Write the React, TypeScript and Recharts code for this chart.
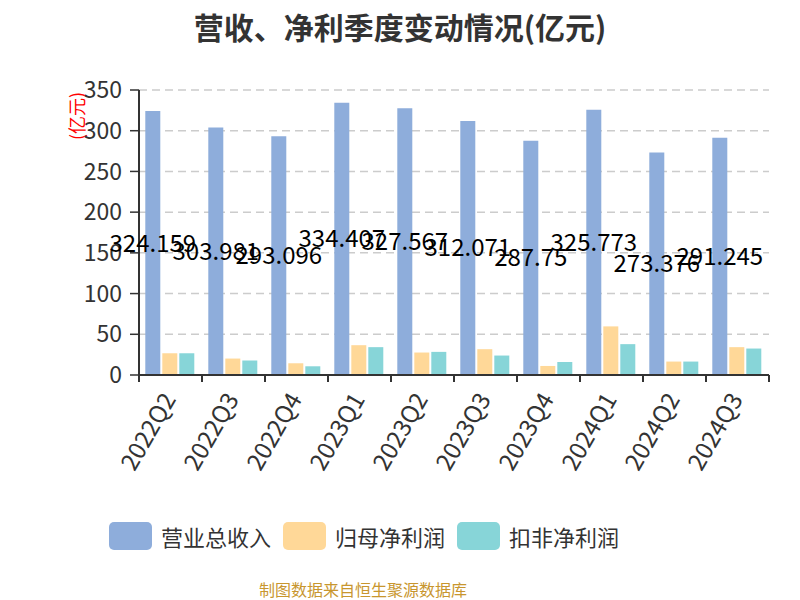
import { BarChart, Bar, XAxis, YAxis, CartesianGrid, LabelList } from "recharts";

const quarters = ["2022Q2", "2022Q3", "2022Q4", "2023Q1", "2023Q2", "2023Q3", "2023Q4", "2024Q1", "2024Q2", "2024Q3"];
const revenue = [324.159, 303.981, 293.096, 334.407, 327.567, 312.071, 287.75, 325.773, 273.376, 291.245];
const netProfit = [26.7, 20.2, 14.4, 36.6, 27.6, 31.7, 11.1, 59.7, 16.5, 34.2];
const deductedProfit = [26.7, 17.7, 10.7, 34.2, 28.4, 23.9, 16.0, 37.9, 16.5, 32.5];
const yTicks = [0, 50, 100, 150, 200, 250, 300, 350];

const seriesNames = ["营业总收入", "归母净利润", "扣非净利润"];
const colors = ["#8eaddb", "#ffd898", "#87d5d8"];

const data = quarters.map((q, i) => ({
  name: q,
  revenue: revenue[i],
  net: netProfit[i],
  deducted: deductedProfit[i],
}));

const font = '"Noto Sans CJK SC", "Noto Sans", sans-serif';

const QuarterTick = (props: any) => {
  const { x, y, payload, index } = props;
  const half = payload.offset ?? 31.5;
  const tx = x - 1;
  const ty = y + 20;
  return (
    <g>
      <line x1={x - half} y1={y} x2={x - half} y2={y + 7} stroke="#333" strokeWidth={2} />
      {index === quarters.length - 1 && (
        <line x1={x + half} y1={y} x2={x + half} y2={y + 7} stroke="#333" strokeWidth={2} />
      )}
      <text
        x={tx}
        y={ty}
        transform={`rotate(-60 ${tx} ${ty})`}
        textAnchor="end"
        dy="0.35em"
        fontSize={24}
        fill="#333"
        fontFamily={font}
      >
        {payload.value}
      </text>
    </g>
  );
};

const App = () => (
  <div style={{ position: "absolute", left: 0, top: 0, width: 800, height: 600, background: "#fff", fontFamily: font }}>
    <div style={{ position: "absolute", top: 4, left: 0, width: 800, textAlign: "center", fontSize: 30, fontWeight: "bold", color: "#333" }}>
      营收、净利季度变动情况(亿元)
    </div>
    <div
      style={{
        position: "absolute",
        left: 76,
        top: 116,
        transform: "translate(-50%, -50%) rotate(-90deg)",
        color: "red",
        fontSize: 18,
        whiteSpace: "nowrap",
      }}
    >
      (亿元)
    </div>
    <BarChart
      width={800}
      height={600}
      data={data}
      margin={{ top: 90, right: 31, bottom: 135, left: 0 }}
      barCategoryGap="10%"
      barGap={2}
    >
      <CartesianGrid vertical={false} stroke="#ccc" strokeDasharray="8 5" strokeWidth={1.5} />
      <XAxis
        dataKey="name"
        height={90}
        interval={0}
        tickLine={false}
        tickSize={0}
        tickMargin={0}
        axisLine={{ stroke: "#333", strokeWidth: 2 }}
        tick={<QuarterTick />}
      />
      <YAxis
        width={139}
        domain={[0, 350]}
        ticks={yTicks}
        interval={0}
        tickSize={9}
        tickMargin={8}
        axisLine={{ stroke: "#333", strokeWidth: 2 }}
        tickLine={{ stroke: "#333", strokeWidth: 1.5 }}
        tick={{ fontSize: 23, fill: "#333", fontFamily: font }}
      />
      <Bar dataKey="revenue" fill={colors[0]} isAnimationActive={false}>
        <LabelList dataKey="revenue" position="center" fill="#000" fontSize={24} fontFamily={font} />
      </Bar>
      <Bar dataKey="net" fill={colors[1]} isAnimationActive={false} />
      <Bar dataKey="deducted" fill={colors[2]} isAnimationActive={false} />
    </BarChart>
    {seriesNames.map((name, i) => (
      <div
        key={name}
        style={{ position: "absolute", top: 522, left: 109 + i * 174, display: "flex", alignItems: "center", whiteSpace: "nowrap" }}
      >
        <div style={{ width: 43, height: 28, borderRadius: 5, background: colors[i], marginRight: 9 }} />
        <span style={{ fontSize: 22, color: "#333", lineHeight: "28px" }}>{name}</span>
      </div>
    ))}
    <div
      style={{
        position: "absolute",
        top: 580,
        left: 259,
        width: 204,
        textAlign: "center",
        fontSize: 16,
        lineHeight: "18px",
        color: "#c8962e",
        whiteSpace: "nowrap",
      }}
    >
      制图数据来自恒生聚源数据库
    </div>
  </div>
);

export default App;
